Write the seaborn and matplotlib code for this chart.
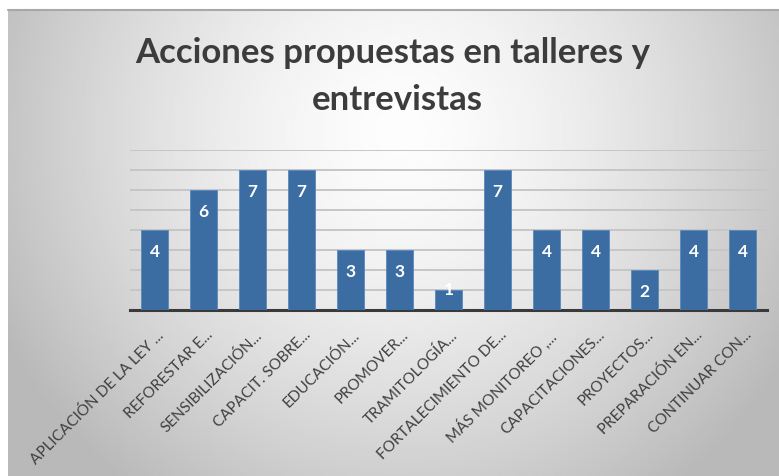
import numpy as np
import pandas as pd
import matplotlib
matplotlib.use("Agg")
import matplotlib.pyplot as plt
import matplotlib.transforms as mtransforms
import seaborn as sns

categories = [
    "APLICACIÓN DE LA LEY ...", "REFORESTAR E...", "SENSIBILIZACIÓN...",
    "CAPACIT. SOBRE...", "EDUCACIÓN...", "PROMOVER...", "TRAMITOLOGÍA...",
    "FORTALECIMIENTO DE...", "MÁS MONITOREO ,...", "CAPACITACIONES...",
    "PROYECTOS...", "PREPARACIÓN EN...", "CONTINUAR CON...",
]
values = [4, 6, 7, 7, 3, 3, 1, 7, 4, 4, 2, 4, 4]
title_lines = ["Acciones propuestas en talleres y", "entrevistas"]

sns.set_theme(style="white")
plt.rcParams["font.family"] = ["Lato", "DejaVu Sans"]

W, H = 779, 476
fig = plt.figure(figsize=(W / 100, H / 100), dpi=100)
fig.patch.set_facecolor("white")

# background panel with radial gradient
bg = fig.add_axes([8 / W, 0, (W - 8) / W, (H - 10) / H])
ny, nx = 233, 386
yy, xx = np.mgrid[0:ny, 0:nx]
px = xx * (W - 8) / nx + 8
py = yy * (H - 10) / ny + 10
r = np.sqrt(((px - 400) / 420) ** 2 + ((py - 130) / 420) ** 2)
val = np.clip(253 - 62 * r ** 1.5, 185, 253) / 255
bg.imshow(val, cmap="gray", vmin=0, vmax=1, aspect="auto", interpolation="bilinear")
bg.set_axis_off()
fig.add_artist(plt.Line2D([8 / W, 1], [(H - 10) / H, (H - 10) / H], color="#a8a8a8", lw=1.5))

ax = fig.add_axes([130 / W, (H - 310) / H, 637 / W, 160 / H])
ax.set_facecolor("none")
df = pd.DataFrame({"cat": categories, "val": values})
sns.barplot(data=df, x="cat", y="val", color="#3b6da3", saturation=1, width=0.57,
            ax=ax, zorder=3, edgecolor="#5a88bb", linewidth=0.6)
ax.set_ylim(0, 8)
ax.set_xlim(-0.5, len(categories) - 0.5)
ax.set_yticks(range(1, 9))
ax.set_yticklabels([])
ax.tick_params(axis="y", length=0)
ax.yaxis.grid(True, color="#c6c6c6", lw=1.4, zorder=0)
ax.set_axisbelow(True)
for s in ["left", "right", "top"]:
    ax.spines[s].set_visible(False)
ax.spines["bottom"].set_color("#3a3a3a")
ax.spines["bottom"].set_linewidth(2.2)
ax.set_xlabel("")
ax.set_ylabel("")
ax.tick_params(axis="x", length=0, pad=13)
offset = mtransforms.ScaledTranslation(2 / 100, 0, fig.dpi_scale_trans)
ax.set_xticks(range(len(categories)))
ax.set_xticklabels(categories, rotation=45, ha="right", va="top",
                   rotation_mode="anchor", fontsize=11, color="#404040")
for lab in ax.get_xticklabels():
    lab.set_transform(lab.get_transform() + offset)

for i, v in enumerate(values):
    y = v - 1.1 if v >= 2 else v
    ax.text(i, y, str(v), ha="center", va="center", color="white",
            fontsize=12.5, fontweight="bold", zorder=5)

fig.text(0.504, 1 - 63 / H, title_lines[0], ha="center", va="baseline", fontsize=25,
         color="#3c3c3c", fontweight="bold")
fig.text(0.510, 1 - 110 / H, title_lines[1], ha="center", va="baseline", fontsize=25,
         color="#3c3c3c", fontweight="bold")

fig.savefig("out.png", dpi=100)
